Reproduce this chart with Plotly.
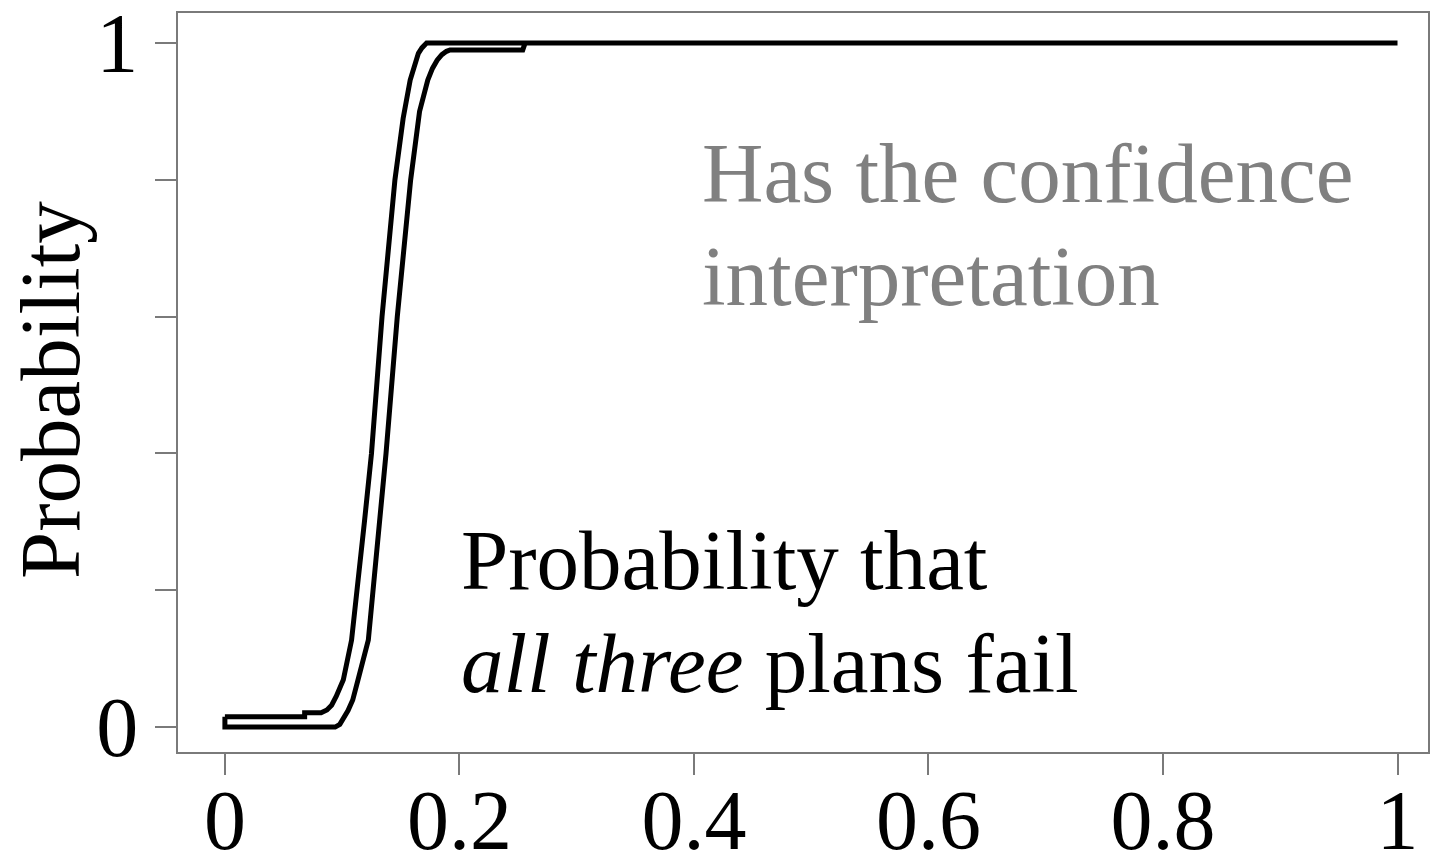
import plotly.graph_objects as go

# Upper bound of the p-box (left curve)
upper_x = [0.0, 0.068, 0.068, 0.082, 0.087, 0.091, 0.095, 0.098, 0.101, 0.108, 0.113, 0.119,
           0.125, 0.134, 0.145, 0.152, 0.158, 0.162, 0.165, 0.168, 0.170, 0.172, 1.0]
upper_p = [0.015, 0.015, 0.021, 0.021, 0.025, 0.032, 0.045, 0.056, 0.069, 0.127, 0.2, 0.3,
           0.4, 0.6, 0.8, 0.89, 0.946, 0.97, 0.985, 0.993, 0.998, 1.0, 1.0]

# Lower bound of the p-box (right curve)
lower_x = [0.0, 0.094, 0.098, 0.101, 0.105, 0.109, 0.1135, 0.1223, 0.1266, 0.132, 0.1374, 0.147,
           0.1584, 0.166, 0.173, 0.177, 0.181, 0.185, 0.189, 0.192, 0.254, 0.256, 1.0]
lower_p = [0.0, 0.0, 0.004, 0.012, 0.024, 0.0395, 0.069, 0.127, 0.2, 0.3, 0.4, 0.6,
           0.8, 0.9, 0.946, 0.963, 0.975, 0.983, 0.988, 0.99, 0.99, 1.0, 1.0]

x_ticks = [0, 0.2, 0.4, 0.6, 0.8, 1]
x_labels = ["0", "0.2", "0.4", "0.6", "0.8", "1"]
y_ticks = [0, 0.2, 0.4, 0.6, 0.8, 1]
y_labels = ["0", "", "", "", "", "1"]

SERIF = "Liberation Serif, Times New Roman, serif"
FRAME = "#7a7a7a"

# closed outline: upper bound forward, lower bound back, joined at x = 0
poly_x = upper_x + lower_x[::-1] + [upper_x[0]]
poly_y = upper_p + lower_p[::-1] + [upper_p[0]]

fig = go.Figure()
fig.add_trace(go.Scatter(
    x=poly_x, y=poly_y, mode="lines",
    line=dict(color="black", width=5),
    fill="toself", fillcolor="white",
    hoverinfo="skip", showlegend=False,
))

fig.update_layout(
    width=1434, height=857,
    margin=dict(l=178, r=6, t=13, b=105, autoexpand=False),
    paper_bgcolor="white", plot_bgcolor="white",
    font=dict(family=SERIF, size=84, color="black"),
    showlegend=False,
)

axis_common = dict(
    showgrid=False, zeroline=False, automargin=False,
    showline=True, mirror=True, linecolor=FRAME, linewidth=2,
    ticks="outside", ticklen=21, tickwidth=2, tickcolor=FRAME,
    ticklabeloverflow="allow",
    tickfont=dict(family=SERIF, size=84, color="black"),
)
fig.update_xaxes(range=[-0.04, 1.026], tickvals=x_ticks, ticktext=x_labels,
                 ticklabelstandoff=-27, **axis_common)
fig.update_yaxes(range=[-0.0365, 1.044], tickvals=y_ticks, ticktext=y_labels, **axis_common)

def note(text, x, y, color, **kw):
    fig.add_annotation(text=text, x=x, y=y, xref="x", yref="y",
                       xanchor="left", yanchor="middle", showarrow=False,
                       font=dict(family=SERIF, size=85, color=color), **kw)

note("Has the confidence", 0.405, 0.81, "#808080")
note("interpretation", 0.405, 0.66, "#808080")
note("Probability that", 0.2, 0.244, "black")
note("<i>all three</i> plans fail", 0.2, 0.093, "black")

# rotated axis title
fig.add_annotation(text="Probability", xref="paper", yref="paper",
                   x=(50 - 178) / 1250, y=(752 - 390) / 739,
                   xanchor="center", yanchor="middle", textangle=-90,
                   showarrow=False, font=dict(family=SERIF, size=85, color="black"))

fig.write_html("out.html")
